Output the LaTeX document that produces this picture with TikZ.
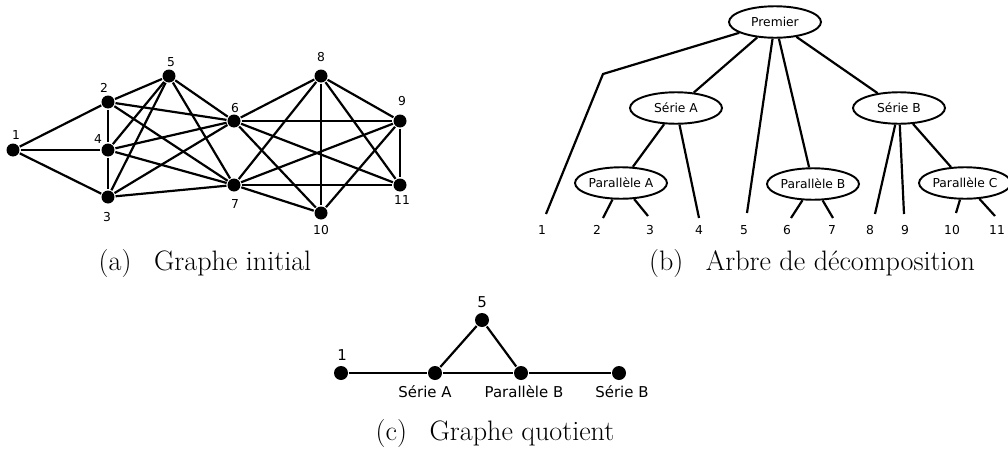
\documentclass[tikz,border=0pt]{standalone}
\usepackage{fontspec}
\newfontfamily\labfont{DejaVu Sans}
\usetikzlibrary{shapes.geometric}

\begin{document}
\begin{tikzpicture}[x=.02cm,y=-.02cm,line width=1.25pt,
  vertex/.style={circle,fill=black,inner sep=0pt,minimum size=.26cm},
  bigvertex/.style={vertex,minimum size=.28cm},
  lab/.style={font=\labfont\fontsize{7}{8.4}\selectfont,inner sep=0pt},
  biglab/.style={font=\labfont\fontsize{8.5}{10}\selectfont,inner sep=0pt},
  module/.style={ellipse,draw,fill=white,line width=1.1pt,inner sep=0pt,minimum width=1.84cm,minimum height=.63cm,font=\labfont\fontsize{7}{8.4}\selectfont},
  subcap/.style={font=\fontsize{16}{19}\selectfont,inner sep=0pt}]
\useasboundingbox (0,0) rectangle (1008,450);
\foreach \i/\x/\y/\lx/\ly in {1/13/150/16/135,2/108/102/104/88,3/108/197/107/217,4/108/150/98/139,5/169/76/171/62,6/234/121/235/108,7/234/185/235/204,8/321/76/321/57,9/400/121/402/101,10/321/213/321/230,11/400/185/402/200}{
  \node[vertex] (a\i) at (\x,\y) {};
  \node[lab] (a\i l) at (\lx,\ly) {\i};
}
\foreach \u/\v in {1/2,1/4,1/3,2/4,4/3,2/5,2/6,2/7,4/5,4/6,4/7,3/5,3/6,3/7,5/6,5/7,6/8,6/9,6/10,6/11,7/8,7/9,7/10,7/11,8/9,8/10,8/11,9/10,9/11}
  \draw (a\u) -- (a\v);
\node[subcap] (capa) at (205,263) {(a)\hspace{.8em}Graphe initial};
\node[module] (prem) at (775,22) {Premier};
\node[module] (sa) at (676,108) {Série A};
\node[module] (sb) at (899,108) {Série B};
\node[module] (pa) at (621,183) {Parallèle A};
\node[module] (pb) at (813,184) {Parallèle B};
\node[module] (pc) at (965,183) {Parallèle C};
\coordinate (bend) at (603,74);
\foreach \i/\x/\y/\lx in {1/546/214/542,2/603/218/597,3/648/216/650,4/699/218/699,5/747/213/744,6/791/218/787,7/833/218/832,8/875/214/870,9/904/214/905,10/956/213/952,11/995/216/997}{
  \coordinate (t\i) at (\x,\y);
  \node[lab] (b\i) at (\lx,230) {\i};
}
\draw (prem) -- (bend) -- (t1);
\foreach \u/\v in {prem/sa,prem/t5,prem/pb,prem/sb,sa/pa,sa/t4,pa/t2,pa/t3,pb/t6,pb/t7,sb/t8,sb/t9,sb/pc,pc/t10,pc/t11}
  \draw (\u) -- (\v);
\node[subcap] (capb) at (812,263) {(b)\hspace{.8em}Arbre de décomposition};
\node[bigvertex] (c1) at (341,373) {};
\node[bigvertex] (csa) at (435,373) {};
\node[bigvertex] (c5) at (482,320) {};
\node[bigvertex] (cpb) at (521,373) {};
\node[bigvertex] (csb) at (619,373) {};
\node[biglab] (c1l) at (342,355) {1};
\node[biglab] (c5l) at (482,302) {5};
\node[biglab] (csal) at (425,392) {Série A};
\node[biglab] (cpbl) at (524,392) {Parallèle B};
\node[biglab] (csbl) at (622,392) {Série B};
\foreach \u/\v in {c1/csa,csa/cpb,cpb/csb,csa/c5,c5/cpb}
  \draw (\u) -- (\v);
\node[subcap] (capc) at (495,433) {(c)\hspace{.8em}Graphe quotient};
\end{tikzpicture}
\end{document}
